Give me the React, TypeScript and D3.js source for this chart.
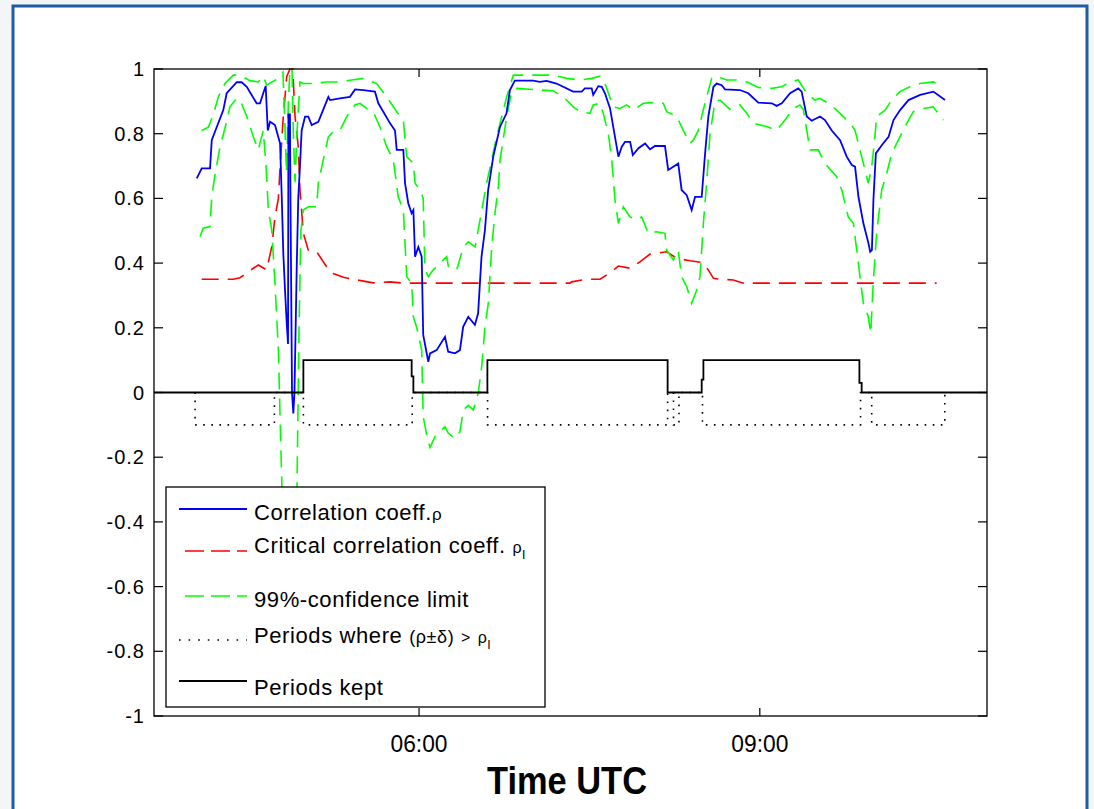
import React from 'react';
import * as d3 from 'd3';

type P = [number, number];

// time in minutes after 00:00 UTC, value
const rhoData: P[] = [
  [242.6, 0.662], [245.2, 0.693], [249.6, 0.693], [250.5, 0.78], [253.1, 0.82], [256.6, 0.873],
  [258.4, 0.925], [263.7, 0.959], [266.3, 0.959], [269.0, 0.945], [274.2, 0.894], [276.0, 0.894],
  [277.7, 0.925], [279.0, 0.947], [280.1, 0.81], [281.3, 0.837], [283.9, 0.827], [286.6, 0.77],
  [287.5, 0.6], [288.3, 0.43], [289.2, 0.317], [290.1, 0.214], [290.8, 0.15], [291.0, 0.86],
  [291.8, 0.86], [292.1, 0.59], [292.9, 0.0], [293.6, -0.065], [294.2, 0.0], [295.4, 0.39],
  [296.2, 0.6], [297.1, 0.7], [298.0, 0.81], [299.8, 0.853], [301.5, 0.853], [303.3, 0.827],
  [306.8, 0.837], [308.6, 0.863], [312.1, 0.914], [313.0, 0.904], [318.2, 0.909], [323.5, 0.914],
  [326.2, 0.937], [330.6, 0.935], [336.7, 0.93], [338.5, 0.894], [344.7, 0.832], [347.3, 0.81],
  [348.2, 0.75], [351.7, 0.75], [352.6, 0.647], [354.3, 0.585], [356.1, 0.554], [357.0, 0.564],
  [357.9, 0.42], [359.6, 0.45], [361.4, 0.42], [362.2, 0.178], [364.9, 0.095], [365.8, 0.121],
  [369.3, 0.131], [373.7, 0.172], [375.4, 0.126], [379.0, 0.121], [381.6, 0.131], [383.3, 0.203],
  [386.0, 0.234], [389.5, 0.209], [391.2, 0.245], [393.0, 0.42], [394.8, 0.502], [396.5, 0.626],
  [399.2, 0.729], [402.7, 0.82], [406.2, 0.863], [408.0, 0.935], [410.6, 0.964], [420.3, 0.964],
  [423.8, 0.96], [427.4, 0.963], [432.6, 0.955], [441.4, 0.93], [445.9, 0.93], [447.6, 0.94],
  [451.2, 0.94], [452.0, 0.92], [454.7, 0.947], [456.5, 0.945], [458.2, 0.925], [460.9, 0.878],
  [463.5, 0.79], [465.3, 0.729], [467.1, 0.76], [468.8, 0.775], [471.5, 0.775], [472.9, 0.734],
  [475.9, 0.755], [479.4, 0.77], [482.0, 0.752], [484.6, 0.762], [489.9, 0.762], [491.6, 0.688],
  [494.3, 0.698], [496.9, 0.708], [498.7, 0.626], [501.4, 0.61], [504.0, 0.564], [505.8, 0.605],
  [509.3, 0.605], [511.1, 0.739], [512.8, 0.853], [515.5, 0.945], [517.2, 0.955], [519.9, 0.95],
  [521.6, 0.937], [529.5, 0.935], [533.9, 0.925], [539.2, 0.896], [546.3, 0.894], [548.9, 0.886],
  [551.6, 0.894], [556.0, 0.925], [560.3, 0.94], [562.1, 0.93], [564.8, 0.853], [567.4, 0.84],
  [571.8, 0.853], [574.4, 0.842], [578.0, 0.81], [582.4, 0.78], [585.9, 0.729], [588.6, 0.703],
  [590.3, 0.698], [592.1, 0.605], [594.7, 0.523], [597.4, 0.461], [598.3, 0.435], [599.2, 0.44],
  [600.0, 0.595], [601.3, 0.739], [604.5, 0.765], [608.0, 0.79], [610.6, 0.842], [614.1, 0.873],
  [618.5, 0.904], [624.7, 0.92], [631.7, 0.93], [637.8, 0.904],
];

const criticalData: P[] = [
  [245.2, 0.35], [261.9, 0.35], [265.4, 0.355], [272.5, 0.384], [275.1, 0.394], [279.5, 0.379],
  [282.2, 0.45], [283.9, 0.543], [285.7, 0.6], [286.6, 0.698], [288.3, 0.853], [290.1, 0.976],
  [291.8, 1.0], [293.3, 1.0], [294.5, 0.853], [296.2, 0.76], [297.1, 0.626], [298.9, 0.492],
  [301.5, 0.44], [305.9, 0.435], [311.2, 0.389], [314.7, 0.368], [320.0, 0.356], [327.1, 0.348],
  [335.8, 0.339], [344.7, 0.342], [351.7, 0.338], [439.7, 0.338], [440.6, 0.342], [448.6, 0.35],
  [455.6, 0.35], [460.9, 0.37], [465.3, 0.391], [471.5, 0.384], [476.7, 0.404], [482.0, 0.428],
  [490.8, 0.435], [496.1, 0.415], [503.1, 0.407], [509.3, 0.402], [512.8, 0.379], [515.5, 0.353],
  [519.0, 0.35], [526.0, 0.348], [531.3, 0.338], [633.4, 0.338],
];

const upperLimitData: P[] = [
  [245.2, 0.81], [248.7, 0.82], [251.3, 0.858], [254.0, 0.914], [257.5, 0.955], [261.9, 0.981],
  [265.4, 0.981], [270.7, 0.964], [275.1, 0.96], [277.7, 0.978], [279.5, 0.95], [282.3, 0.96],
  [285.5, 0.97], [288.1, 0.99], [289.0, 0.85], [290.0, 0.68], [291.0, 0.9], [291.8, 1.0],
  [292.9, 1.0], [293.6, 0.8], [294.5, 0.65], [295.5, 0.8], [297.1, 0.96], [298.9, 0.955],
  [304.1, 0.955], [311.2, 0.96], [318.2, 0.96], [325.3, 0.967], [330.6, 0.971], [337.6, 0.955],
  [342.9, 0.914], [348.2, 0.868], [351.7, 0.842], [353.5, 0.729], [357.0, 0.708], [357.9, 0.647],
  [360.5, 0.626], [362.2, 0.6], [363.1, 0.38], [364.9, 0.358], [367.5, 0.379], [372.8, 0.41],
  [374.6, 0.42], [375.5, 0.389], [379.9, 0.379], [383.4, 0.45], [386.0, 0.466], [389.6, 0.45],
  [392.2, 0.533], [395.7, 0.647], [398.4, 0.719], [401.0, 0.79], [403.7, 0.853], [406.3, 0.914],
  [409.8, 0.981], [423.9, 0.981], [430.9, 0.981], [438.0, 0.971], [445.0, 0.966], [451.2, 0.971],
  [455.6, 0.978], [458.2, 0.955], [462.6, 0.883], [466.1, 0.878], [469.7, 0.889], [473.2, 0.873],
  [478.5, 0.894], [483.7, 0.896], [489.0, 0.894], [490.8, 0.868], [496.1, 0.853], [499.6, 0.81],
  [503.1, 0.77], [504.9, 0.78], [507.5, 0.81], [509.3, 0.853], [511.9, 0.914], [514.6, 0.971],
  [517.2, 0.978], [522.5, 0.966], [529.5, 0.966], [533.9, 0.958], [539.2, 0.943], [546.3, 0.94],
  [551.6, 0.945], [555.9, 0.96], [560.3, 0.966], [564.8, 0.925], [569.1, 0.904], [571.8, 0.909],
  [576.2, 0.894], [580.6, 0.873], [584.1, 0.853], [588.5, 0.827], [590.3, 0.81], [592.9, 0.75],
  [595.6, 0.688], [597.3, 0.647], [599.1, 0.698], [600.8, 0.79], [601.7, 0.853], [606.1, 0.873],
  [609.7, 0.904], [614.0, 0.93], [619.3, 0.945], [624.6, 0.955], [631.6, 0.96], [636.9, 0.947],
];

const lowerLimitData: P[] = [
  [244.3, 0.482], [246.0, 0.508], [249.6, 0.513], [250.5, 0.605], [252.2, 0.672], [254.9, 0.76],
  [257.5, 0.817], [260.1, 0.883], [263.7, 0.909], [265.4, 0.905], [269.0, 0.853], [272.5, 0.79],
  [275.1, 0.75], [277.7, 0.81], [279.2, 0.7], [280.4, 0.564], [282.2, 0.502], [283.9, 0.338],
  [285.7, 0.131], [286.6, -0.075], [287.6, -0.3], [288.7, -0.8], [294.5, -0.8], [295.5, -0.3],
  [296.6, 0.2], [297.6, 0.5], [298.9, 0.564], [301.5, 0.574], [305.9, 0.574], [306.8, 0.647],
  [309.4, 0.719], [312.1, 0.79], [314.7, 0.806], [318.2, 0.81], [321.8, 0.853], [326.2, 0.889],
  [328.8, 0.894], [332.4, 0.878], [335.8, 0.868], [339.4, 0.82], [342.9, 0.76], [346.4, 0.719],
  [349.0, 0.605], [351.7, 0.564], [353.5, 0.358], [356.1, 0.338], [357.0, 0.234], [358.8, 0.2],
  [361.4, 0.131], [362.2, -0.075], [364.0, -0.13], [365.8, -0.17], [368.4, -0.137], [373.7, -0.106],
  [375.5, -0.126], [379.0, -0.142], [381.6, -0.121], [383.4, -0.054], [386.0, -0.04], [388.7, -0.054],
  [391.3, 0.0], [393.1, 0.08], [394.8, 0.203], [396.6, 0.276], [398.4, 0.45], [400.1, 0.554],
  [401.9, 0.636], [402.8, 0.719], [406.3, 0.853], [408.9, 0.93], [411.6, 0.94], [423.9, 0.935],
  [430.9, 0.933], [438.0, 0.904], [441.5, 0.883], [445.0, 0.868], [450.3, 0.863], [452.0, 0.889],
  [455.6, 0.894], [457.3, 0.863], [460.0, 0.8], [461.8, 0.719], [463.5, 0.595], [465.3, 0.523],
  [467.9, 0.574], [471.4, 0.543], [475.0, 0.533], [477.6, 0.543], [481.1, 0.492], [485.5, 0.497],
  [489.9, 0.492], [490.8, 0.44], [494.3, 0.41], [496.9, 0.44], [498.7, 0.358], [501.4, 0.327],
  [504.0, 0.276], [506.7, 0.317], [508.4, 0.358], [510.2, 0.523], [511.9, 0.647], [513.7, 0.8],
  [516.3, 0.899], [519.0, 0.904], [524.3, 0.875], [529.5, 0.889], [533.1, 0.863], [536.6, 0.832],
  [543.6, 0.822], [548.9, 0.81], [553.3, 0.842], [557.7, 0.878], [561.2, 0.889], [563.0, 0.875],
  [564.8, 0.81], [566.5, 0.75], [570.9, 0.75], [574.4, 0.708], [580.6, 0.667], [583.3, 0.626],
  [585.0, 0.585], [586.7, 0.543], [589.4, 0.523], [591.2, 0.44], [592.9, 0.358], [594.7, 0.276],
  [597.3, 0.234], [598.6, 0.183], [599.9, 0.338], [601.7, 0.492], [604.4, 0.626], [607.0, 0.677],
  [609.7, 0.739], [614.0, 0.79], [617.6, 0.832], [621.1, 0.868], [626.4, 0.878], [631.6, 0.883],
  [636.9, 0.842],
];

// step series (value holds until the next time)
const dottedSteps: P[] = [
  [241.7, 0], [241.7, -0.1], [283.6, 0], [298.9, -0.1], [356.4, 0], [396.2, -0.1], [491.3, 0],
  [494.4, -0.1], [497.3, 0], [509.7, -0.1], [593.2, 0], [599.1, -0.1], [637.7, 0],
];

const keptSteps: P[] = [
  [220, 0], [298.9, 0.1], [356.1, 0.05], [357.0, 0], [396.1, 0.1], [491.3, 0], [509.3, 0.04],
  [510.2, 0.1], [592.6, 0.03], [593.8, 0], [660, 0],
];

const timeDomain: [number, number] = [220, 660];
const xTicks = [360, 540];
const xTickLabels = ['06:00', '09:00'];
const yTicks = [-1, -0.8, -0.6, -0.4, -0.2, 0, 0.2, 0.4, 0.6, 0.8, 1];
const yTickLabels = ['-1', '-0.8', '-0.6', '-0.4', '-0.2', '0', '0.2', '0.4', '0.6', '0.8', '1'];

const FONT = '"Liberation Sans", Arial, Helvetica, sans-serif';

export default function App() {
  const W = 1094;
  const H = 809;
  const L = 154, R = 987, T = 69, B = 716;
  const x = d3.scaleLinear().domain(timeDomain).range([L, R]);
  const y = d3.scaleLinear().domain([-1, 1]).range([B, T]);
  const line = d3.line<P>().x(d => x(d[0])).y(d => y(d[1]));
  const stepLine = d3.line<P>().x(d => x(d[0])).y(d => y(d[1])).curve(d3.curveStepAfter);

  const dash = '17 9';
  const lg = { x: 166, y: 487, w: 379, h: 220 };

  return (
    <svg width={W} height={H} viewBox={`0 0 ${W} ${H}`}
      style={{ position: 'fixed', left: 0, top: 0, display: 'block', background: '#f4f5f7' }}>
      <rect x={13} y={6} width={1074} height={H + 20} fill="#ffffff" stroke="#1d5ca6" strokeWidth={3} />
      <defs>
        <clipPath id="plotClip">
          <rect x={L} y={T - 1} width={R - L} height={B - T + 2} />
        </clipPath>
      </defs>
      <g clipPath="url(#plotClip)" fill="none">
        <path d={line(criticalData) || ''} stroke="#ff0000" strokeWidth={1.6} strokeDasharray={dash} />
        <path d={line(upperLimitData) || ''} stroke="#00ff00" strokeWidth={1.6} strokeDasharray={dash} />
        <path d={line(lowerLimitData) || ''} stroke="#00ff00" strokeWidth={1.6} strokeDasharray={dash} />
        <path d={line(rhoData) || ''} stroke="#0000ff" strokeWidth={1.8} />
        <path d={stepLine(dottedSteps) || ''} stroke="#000000" strokeWidth={1.6} strokeDasharray="1.6 6.5" />
        <path d={stepLine(keptSteps) || ''} stroke="#000000" strokeWidth={1.8} />
      </g>
      {/* axes box */}
      <rect x={L} y={T} width={R - L} height={B - T} fill="none" stroke="#000" strokeWidth={1.3} />
      {yTicks.map((t, i) => (
        <g key={'y' + i}>
          <line x1={L} x2={L + 9} y1={y(t)} y2={y(t)} stroke="#000" strokeWidth={1.2} />
          <line x1={R - 9} x2={R} y1={y(t)} y2={y(t)} stroke="#000" strokeWidth={1.2} />
          <text x={145} y={y(t) + 7} textAnchor="end" fontFamily={FONT} fontSize={20}
            letterSpacing={1} fill="#000">{yTickLabels[i]}</text>
        </g>
      ))}
      {xTicks.map((t, i) => (
        <g key={'x' + i}>
          <line x1={x(t)} x2={x(t)} y1={B} y2={B - 8} stroke="#000" strokeWidth={1.2} />
          <line x1={x(t)} x2={x(t)} y1={T} y2={T + 8} stroke="#000" strokeWidth={1.2} />
          <text x={x(t)} y={752} textAnchor="middle" fontFamily={FONT} fontSize={24}
            textLength={57} lengthAdjust="spacingAndGlyphs" fill="#000">{xTickLabels[i]}</text>
        </g>
      ))}
      <text x={567} y={794} textAnchor="middle" fontFamily={FONT} fontSize={38} fontWeight="bold"
        textLength={160} lengthAdjust="spacingAndGlyphs" fill="#000">Time UTC</text>

      {/* legend */}
      <rect x={lg.x} y={lg.y} width={lg.w} height={lg.h} fill="#fff" stroke="#000" strokeWidth={1.3} />
      <line x1={179} x2={247} y1={509} y2={509} stroke="#0000ff" strokeWidth={1.8} />
      <line x1={185} x2={247} y1={551} y2={551} stroke="#ff0000" strokeWidth={1.6} strokeDasharray="19 7" />
      <line x1={185} x2={247} y1={596} y2={596} stroke="#00ff00" strokeWidth={1.6} strokeDasharray="19 7" />
      <line x1={179} x2={247} y1={640} y2={640} stroke="#000" strokeWidth={1.6} strokeDasharray="1.6 8" />
      <line x1={179} x2={247} y1={681} y2={681} stroke="#000" strokeWidth={1.8} />
      <g fontFamily={FONT} fontSize={22} fill="#000" letterSpacing={0.6}>
        <text x={254} y={520}>Correlation coeff.<tspan fontSize={17}>ρ</tspan></text>
        <text x={254} y={553}>Critical correlation coeff. <tspan fontSize={16}>ρ</tspan><tspan fontSize={13} dy={6}>l</tspan></text>
        <text x={254} y={607}>99%-confidence limit</text>
        <text x={254} y={643}>Periods where <tspan fontSize={18}>(ρ±δ)</tspan> <tspan fontSize={16}>&gt;</tspan> <tspan fontSize={16}>ρ</tspan><tspan fontSize={13} dy={6}>l</tspan></text>
        <text x={254} y={695}>Periods kept</text>
      </g>
    </svg>
  );
}
